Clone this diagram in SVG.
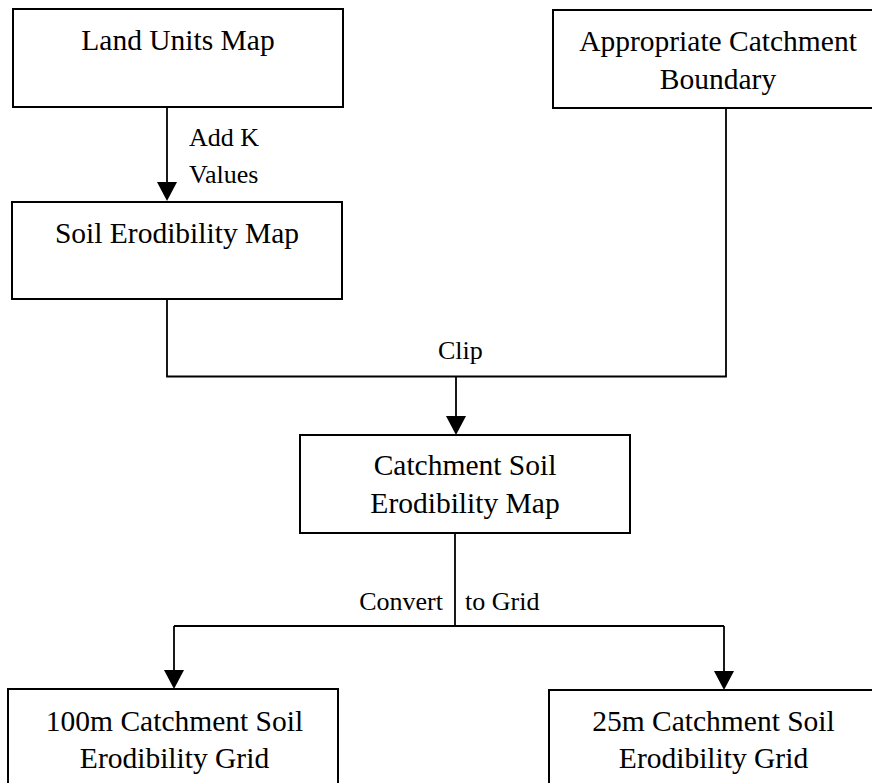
<svg xmlns="http://www.w3.org/2000/svg" width="872" height="783" viewBox="0 0 872 783">
<style>
.box{fill:#fff;stroke:#000;stroke-width:2}
.t{font-family:"Liberation Serif","Times New Roman",serif;font-size:29.5px;fill:#000;text-anchor:middle}
.lbl{font-family:"Liberation Serif","Times New Roman",serif;font-size:26px;fill:#000}
.ln{fill:none;stroke:#000;stroke-width:1.8}
</style>
<defs>
<marker id="ah" markerUnits="userSpaceOnUse" viewBox="0 0 19 20" markerWidth="19" markerHeight="20" refX="17" refY="10" orient="auto">
<path d="M0,0 L19,10 L0,20 z" fill="#000"/>
</marker>
</defs>
<rect width="872" height="783" fill="#fff"/>
<g id="connectors">
<path class="ln" d="M167,107 V199" marker-end="url(#ah)"/>
<path class="ln" d="M167,299 V376.5 H726 V108"/>
<path class="ln" d="M456,376.5 V433" marker-end="url(#ah)"/>
<path class="ln" d="M455,533 V626"/>
<path class="ln" d="M174,626 H724"/>
<path class="ln" d="M174,626 V687" marker-end="url(#ah)"/>
<path class="ln" d="M724,626 V688" marker-end="url(#ah)"/>
<text class="lbl" x="189" y="146">Add K</text>
<text class="lbl" x="189" y="183">Values</text>
<text class="lbl" x="438" y="359">Clip</text>
<text class="lbl" x="443" y="610" text-anchor="end">Convert</text>
<text class="lbl" x="465" y="610">to Grid</text>
</g>
<g id="land-units-map">
<rect class="box" x="13" y="9" width="330" height="98"/>
<text class="t" x="178" y="50">Land Units Map</text>
</g>
<g id="appropriate-catchment-boundary">
<rect class="box" x="553" y="10" width="330" height="98"/>
<text class="t" x="718" y="51">Appropriate Catchment</text>
<text class="t" x="718" y="89">Boundary</text>
</g>
<g id="soil-erodibility-map">
<rect class="box" x="12" y="202" width="330" height="97"/>
<text class="t" x="177" y="243">Soil Erodibility Map</text>
</g>
<g id="catchment-soil-erodibility-map">
<rect class="box" x="300" y="435" width="330" height="98"/>
<text class="t" x="465" y="475">Catchment Soil</text>
<text class="t" x="465" y="513">Erodibility Map</text>
</g>
<g id="grid-100m">
<rect class="box" x="8" y="689" width="330" height="120"/>
<text class="t" x="174.5" y="731">100m Catchment Soil</text>
<text class="t" x="174.5" y="768">Erodibility Grid</text>
</g>
<g id="grid-25m">
<rect class="box" x="549" y="690" width="330" height="120"/>
<text class="t" x="713.5" y="731">25m Catchment Soil</text>
<text class="t" x="713.5" y="768">Erodibility Grid</text>
</g>
</svg>
